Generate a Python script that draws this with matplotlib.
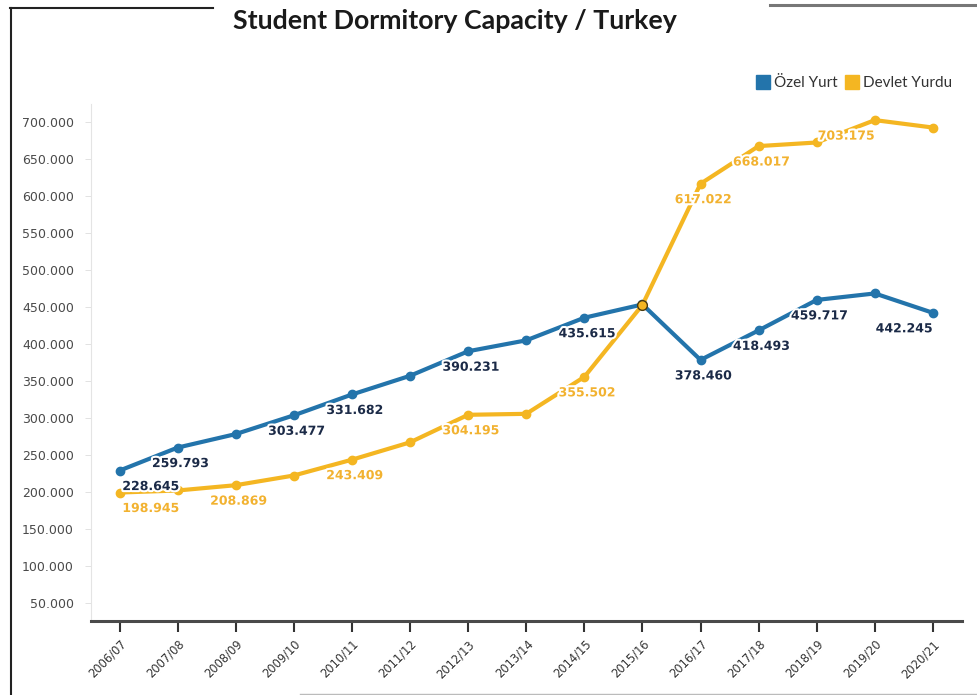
import matplotlib
matplotlib.use("Agg")
import matplotlib.pyplot as plt
from matplotlib.lines import Line2D
import matplotlib.patheffects as pe
from matplotlib.ticker import FuncFormatter

# ---- data ----
categories = ["2006/07", "2007/08", "2008/09", "2009/10", "2010/11", "2011/12", "2012/13",
              "2013/14", "2014/15", "2015/16", "2016/17", "2017/18", "2018/19", "2019/20", "2020/21"]
ozel = [228645, 259793, 278100, 303477, 331682, 357000, 390231, 405000, 435615, 453600,
        378460, 418493, 459717, 468500, 442245]
devlet = [198945, 201700, 208869, 222000, 243409, 266900, 304195, 305500, 355502, 453000,
          617022, 668017, 672900, 703175, 693100]
# indices whose value is printed on the chart
ozel_labeled = [0, 1, 3, 4, 6, 8, 10, 11, 12, 14]
devlet_labeled = [0, 2, 4, 6, 8, 10, 11, 13]
series_names = ["Özel Yurt", "Devlet Yurdu"]
title = "Student Dormitory Capacity / Turkey"
yticks = list(range(50000, 700001, 50000))

BLUE = "#2374ab"
YELLOW = "#f4b622"
BLUE_TXT = "#1b2a47"
YELLOW_TXT = "#f2b230"

W, H = 977, 695
fig = plt.figure(figsize=(W / 100, H / 100), dpi=100)
fig.patch.set_facecolor("white")

left, right, bottom_px, top_px = 90.5, 962, 621, 104
ax = fig.add_axes([left / W, 1 - bottom_px / H, (right - left) / W, (bottom_px - top_px) / H])

x = list(range(len(categories)))
ax.plot(x, ozel, color=BLUE, lw=3.0, marker="o", ms=6, zorder=3, solid_capstyle="round")
ax.plot(x, devlet, color=YELLOW, lw=3.0, marker="o", ms=6, zorder=4, solid_capstyle="round")
# crossing point outline
ax.plot([x[9]], [devlet[9]], marker="o", ms=7, mfc=YELLOW, mec="#4a3a10", mew=1.0, zorder=5)

ax.set_xlim(-0.5, len(categories) - 0.5)
ax.set_ylim(25000, 725000)

def fmt(v):
    return f"{v:,.0f}".replace(",", ".")

ax.yaxis.set_major_formatter(FuncFormatter(lambda v, p: fmt(v)))
ax.set_yticks(yticks)
ax.set_xticks(x)
ax.set_xticklabels(categories, rotation=45, ha="right", rotation_mode="anchor",
                   fontsize=8.3, color="#333333")
ax.tick_params(axis="x", direction="out", length=8, width=1.5, color="#333333", pad=4)
ax.tick_params(axis="y", direction="out", length=4, width=0.6, color="#dddddd",
               labelsize=9, labelcolor="#4a4a4a", pad=8)

for s in ["top", "right"]:
    ax.spines[s].set_visible(False)
ax.spines["left"].set_color("#e4e4e4")
ax.spines["left"].set_linewidth(0.8)
ax.spines["bottom"].set_color("#4a4a4a")
ax.spines["bottom"].set_linewidth(2.2)
ax.spines["bottom"].set_bounds(-0.5, len(categories) - 0.5)

halo = [pe.withStroke(linewidth=3, foreground="white")]

def label(i, v, color):
    n = len(categories)
    if i == 0:
        ha, dx = "left", 2
    elif i >= n - 2:
        ha, dx = "right", 0
    else:
        ha, dx = "center", 2
    ax.annotate(fmt(v), (i, v), xytext=(dx, -11.5), textcoords="offset points",
                ha=ha, va="center", fontsize=9, fontweight="bold", color=color,
                path_effects=halo, zorder=6)

for i in ozel_labeled:
    label(i, ozel[i], BLUE_TXT)
for i in devlet_labeled:
    label(i, devlet[i], YELLOW_TXT)

# title
fig.text(455 / W, 1 - 21 / H, title, ha="center", va="center", fontsize=19.3,
         fontweight="bold", family="Lato", color="#1a1a1a")

# legend
handles = [Line2D([], [], ls="none", marker="s", ms=9.5, color=BLUE),
           Line2D([], [], ls="none", marker="s", ms=9.5, color=YELLOW)]
leg = fig.legend(handles, series_names, loc="center right",
                 bbox_to_anchor=(966 / W, 1 - 83 / H), ncol=2, frameon=False,
                 handlelength=0.8, handletextpad=0.35, columnspacing=0.5,
                 prop={"family": "Lato", "size": 11})
for t in leg.get_texts():
    t.set_color("#333333")

# scanned frame lines
fig.add_artist(Line2D([10 / W, 213 / W], [1 - 8 / H, 1 - 8 / H], color="#222222", lw=1.5))
fig.add_artist(Line2D([10.5 / W, 10.5 / W], [1 - 8 / H, 0], color="#222222", lw=1.5))
fig.add_artist(Line2D([770 / W, 1], [1 - 5 / H, 1 - 5 / H], color="#777777", lw=2.2))
fig.add_artist(Line2D([300 / W, 1], [1 - 693.5 / H, 1 - 693.5 / H], color="#bbbbbb", lw=1))

fig.savefig("out.png", dpi=100, facecolor="white")
